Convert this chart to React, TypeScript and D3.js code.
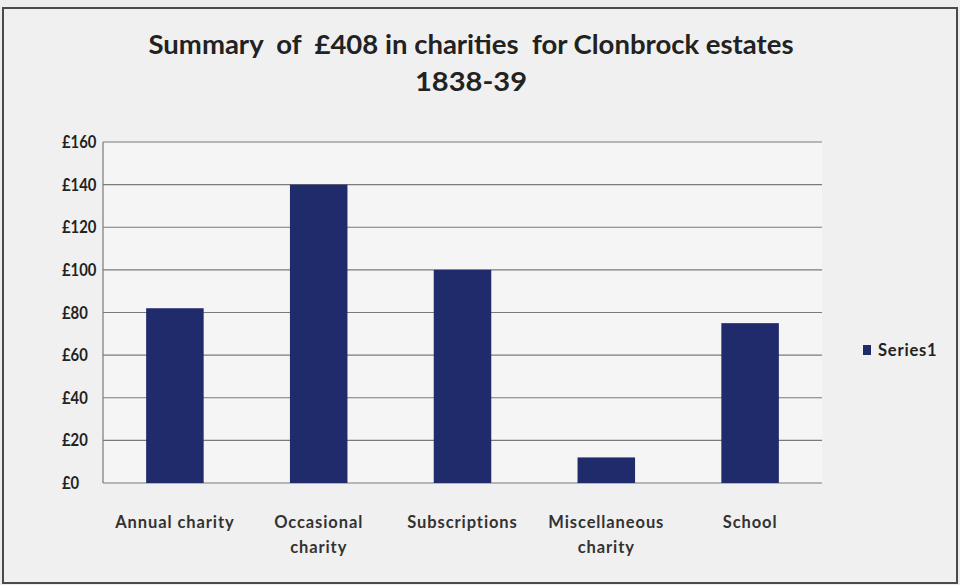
import React from "react";
import * as d3 from "d3";

const categories: string[][] = [
  ["Annual charity"],
  ["Occasional", "charity"],
  ["Subscriptions"],
  ["Miscellaneous", "charity"],
  ["School"],
];
const values: number[] = [82, 140, 100, 12, 75];
const yTicks: number[] = [0, 20, 40, 60, 80, 100, 120, 140, 160];
const titleLines: string[] = [
  "Summary  of  £408 in charities  for Clonbrock estates",
  "1838-39",
];
const seriesName = "Series1";

const W = 960;
const H = 585;
const plot = { left: 103, right: 822, top: 142, bottom: 483 };
const FONT = "Lato, 'Open Sans', sans-serif";
const BAR = "#1f2b6b";

export default function App() {
  const x = d3
    .scaleBand<number>()
    .domain(d3.range(categories.length))
    .range([plot.left, plot.right])
    .paddingInner(0.6)
    .paddingOuter(0.3);
  const y = d3.scaleLinear().domain([0, 160]).range([plot.bottom, plot.top]);
  const fmt = (v: number) => "£" + d3.format("d")(v);
  const step = (plot.right - plot.left) / categories.length;

  return (
    <svg
      width={W}
      height={H}
      style={{ position: "absolute", left: 0, top: 0, display: "block", whiteSpace: "pre" }}
      fontFamily={FONT}
    >
      <rect x={0} y={0} width={W} height={H} fill="#ededed" />
      <rect x={3} y={8} width={954} height={575} fill="#f0f0f0" stroke="#4a4a4a" strokeWidth={2} />
      <rect
        x={plot.left}
        y={plot.top}
        width={plot.right - plot.left}
        height={plot.bottom - plot.top}
        fill="#f5f5f5"
      />
      {/* title */}
      <text x={471} y={54} textAnchor="middle" fontSize={26} fontWeight={700} fill="#222" textLength={645} lengthAdjust="spacingAndGlyphs" style={{ whiteSpace: "pre" }}>
        {titleLines[0]}
      </text>
      <text x={471} y={91} textAnchor="middle" fontSize={26} fontWeight={700} fill="#222" textLength={112} lengthAdjust="spacingAndGlyphs">
        {titleLines[1]}
      </text>
      {/* gridlines */}
      {yTicks.map((t) => (
        <line key={t} x1={plot.left} x2={plot.right} y1={y(t)} y2={y(t)} stroke="#7a7a7a" strokeWidth={1.2} />
      ))}
      <line x1={plot.left} x2={plot.left} y1={plot.top} y2={plot.bottom} stroke="#7a7a7a" strokeWidth={1.2} />
      {/* y labels */}
      {yTicks.map((t) => (
        <text key={t} x={62} y={y(t) + 6} fontSize={16.5} fontWeight={700} fill="#222" textLength={fmt(t).length * 8.6} lengthAdjust="spacingAndGlyphs">
          {fmt(t)}
        </text>
      ))}
      {/* bars */}
      {values.map((v, i) => (
        <rect key={i} x={x(i)} y={y(v)} width={x.bandwidth()} height={y(0) - y(v)} fill={BAR} />
      ))}
      {/* x labels */}
      {categories.map((lines, i) => (
        <text key={i} textAnchor="middle" fontSize={16.5} fontWeight={700} fill="#333" letterSpacing={0.9}>
          {lines.map((l, j) => (
            <tspan key={j} x={plot.left + step * (i + 0.5)} y={528 + j * 25}>
              {l}
            </tspan>
          ))}
        </text>
      ))}
      {/* legend */}
      <rect x={863} y={345} width={8} height={10} fill={BAR} />
      <text x={878} y={356} fontSize={16.5} fontWeight={700} fill="#222" letterSpacing={0.8}>
        {seriesName}
      </text>
    </svg>
  );
}
